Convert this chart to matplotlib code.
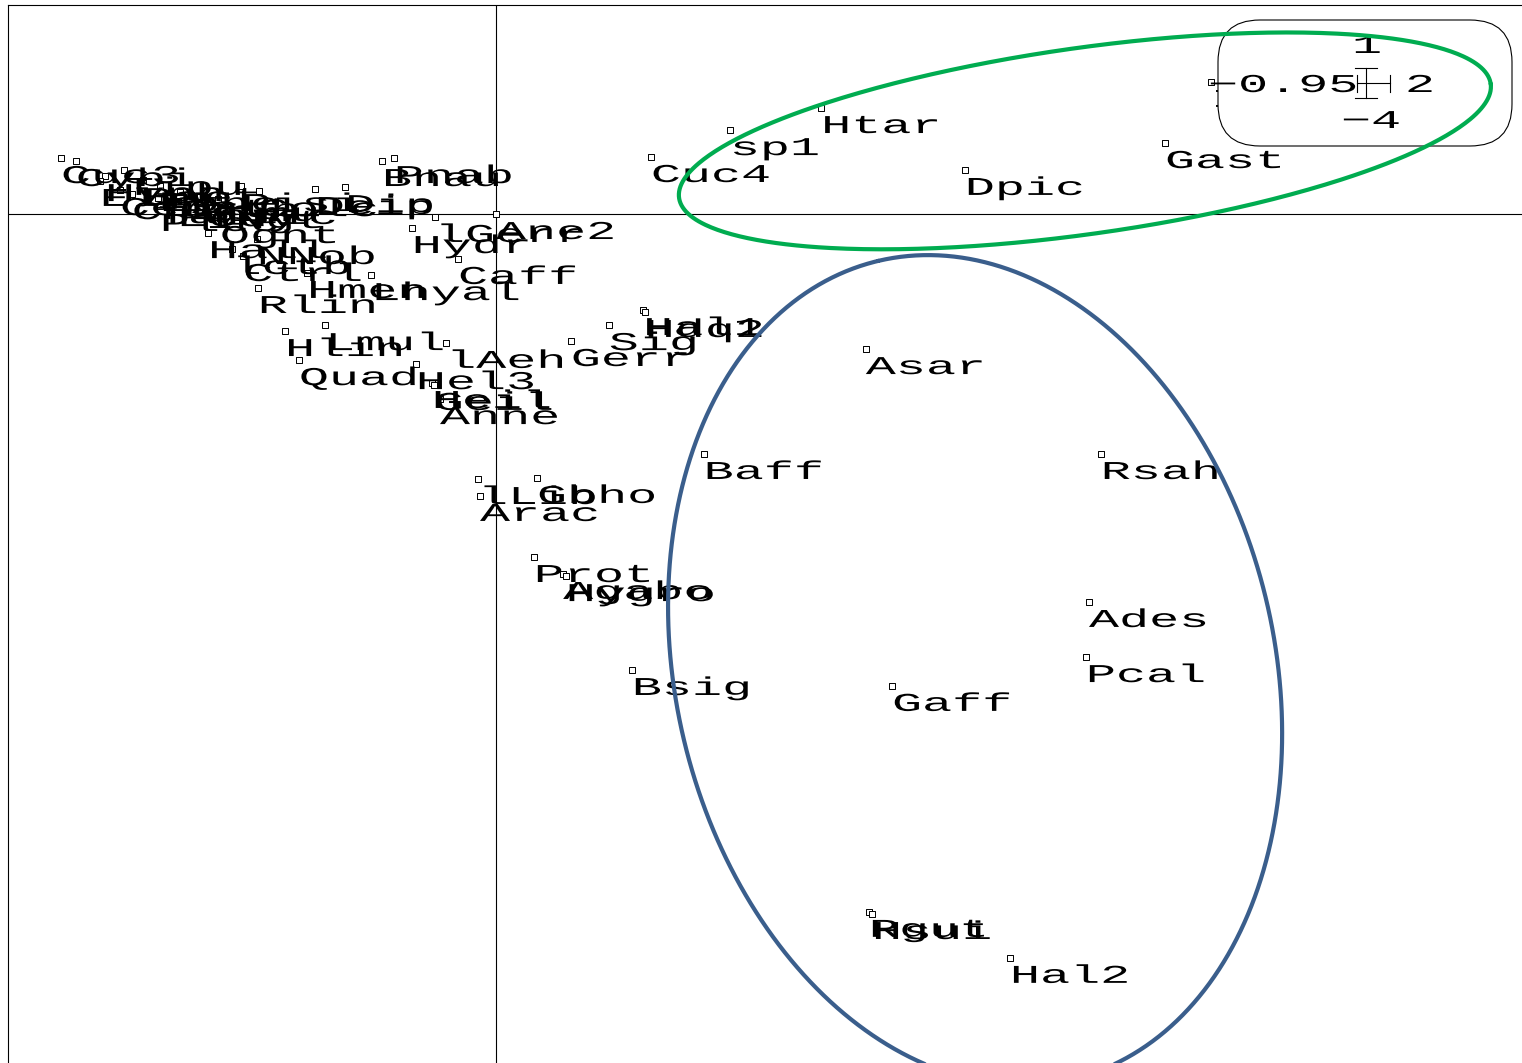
import matplotlib
matplotlib.use("Agg")
import matplotlib.pyplot as plt
import numpy as np
from matplotlib import patheffects as pe
from matplotlib.transforms import Affine2D, IdentityTransform
from matplotlib.patches import FancyBboxPatch
from matplotlib.lines import Line2D

# ---------------- data ----------------
labels = ["Htar", "sp1", "Cuc4", "Dpic", "Gast", "Isot",
          "Asar", "Baff", "Rsah", "Ades", "Pcal", "Gaff", "Bsig",
          "Rgut", "Hsui", "Hal2", "Prot", "Agabo", "Hygro",
          "lLib", "Gbho", "Arac", "Hal1", "Hdq2", "Sig", "Gerr", "lAeh",
          "Hel3", "Heil", "Geil", "Anne", "Quad", "Hlin", "Lmul",
          "Caff", "Hydr", "lGerr", "Ane2", "Lhyal", "Hmen", "Rlin",
          "Pnab", "Bnau",
          "Cuc3", "Cybi", "Tipu", "Hyph", "Elmi", "Baet", "Ephe", "Cera",
          "Chir", "Tani", "Orth", "Simu", "Pisi", "Colc", "Tric", "Plec",
          "Ecdy", "Deip", "Dip",
          "INgt", "Ognt", "Hall", "NNob", "lctb", "Ctrl"]
xs = [0.634, 0.456, 0.302, 0.914, 1.304, 1.394,
      0.721, 0.405, 1.179, 1.156, 1.150, 0.772, 0.265,
      0.727, 0.733, 1.002, 0.074, 0.131, 0.136,
      -0.035, 0.080, -0.031, 0.287, 0.290, 0.220, 0.146, -0.097,
      -0.156, -0.125, -0.121, -0.109, -0.384, -0.411, -0.333,
      -0.074, -0.164, -0.119, 0.000, -0.244, -0.368, -0.464,
      -0.199, -0.222,
      -0.848, -0.819, -0.725, -0.762, -0.772, -0.688, -0.655, -0.733,
      -0.710, -0.659, -0.616, -0.577, -0.497, -0.462, -0.542, -0.655,
      -0.620, -0.353, -0.294,
      -0.567, -0.538, -0.561, -0.466, -0.515, -0.493]
ys = [0.500, 0.396, 0.269, 0.208, 0.335, 0.623,
      -0.637, -1.132, -1.132, -1.830, -2.090, -2.226, -2.151,
      -3.292, -3.302, -3.509, -1.618, -1.698, -1.708,
      -1.250, -1.245, -1.330, -0.453, -0.462, -0.524, -0.599, -0.608,
      -0.708, -0.797, -0.806, -0.873, -0.689, -0.552, -0.524,
      -0.212, -0.066, -0.014, 0.000, -0.288, -0.278, -0.349,
      0.264, 0.250,
      0.264, 0.250, 0.208, 0.179, 0.156, 0.160, 0.132, 0.113,
      0.094, 0.075, 0.104, 0.085, 0.132, 0.108, 0.071, 0.038,
      0.061, 0.118, 0.127,
      0.052, -0.019, -0.090, -0.118, -0.165, -0.198]

# ellipses: centre and two conjugate semi-axis vectors (data units)
green_center = (1.148, 0.345)
green_u = (0.791, 0.269)
green_v = (0.025, -0.435)
blue_center = (0.934, -2.151)
blue_u = (-0.1885, 1.930)
blue_v = (0.568, 0.325)

scale_labels = ["1", "\u22120.95", "2", "\u22124"]

# ---------------- style helpers ----------------
class StretchX(pe.AbstractPathEffect):
    def __init__(self, sx):
        super().__init__((0.0, 0.0))
        self._sx = sx

    def draw_path(self, renderer, gc, tpath, affine, rgbFace=None):
        renderer.draw_path(gc, tpath, Affine2D().scale(self._sx, 1.0) + affine, rgbFace)

FONT = ["Liberation Mono", "DejaVu Sans Mono"]
FS = 18.5
STRETCH = [StretchX(1.95)]

W, H = 1522, 1063
fig = plt.figure(figsize=(W / 100, H / 100), dpi=100)
ax = fig.add_axes([8 / W, 0, 1 - 8 / W, 1 - 5 / H])
ax.set_xlim(-0.951, 2.0)
ax.set_ylim(-4.005, 0.986)
ax.set_xticks([])
ax.set_yticks([])
for s in ["right", "bottom"]:
    ax.spines[s].set_visible(False)
for s in ["top", "left"]:
    ax.spines[s].set_linewidth(0.8)

ax.axhline(0, color="black", lw=0.8, zorder=1)
ax.axvline(0, color="black", lw=0.8, zorder=1)

ax.scatter(xs, ys, marker="s", s=22, facecolor="white", edgecolor="black",
           linewidths=0.7, zorder=3)
for lab, x, y in zip(labels, xs, ys):
    ax.annotate(lab, (x, y), xytext=(0, -25), textcoords="offset pixels",
                ha="left", va="baseline", fontsize=FS, family=FONT,
                path_effects=STRETCH, zorder=3)

# ellipses
t = np.linspace(0, 2 * np.pi, 500)
for c, u, v, col in [(green_center, green_u, green_v, "#00AC50"),
                     (blue_center, blue_u, blue_v, "#3A5E8C")]:
    ex = c[0] + u[0] * np.cos(t) + v[0] * np.sin(t)
    ey = c[1] + u[1] * np.cos(t) + v[1] * np.sin(t)
    ax.plot(ex, ey, color=col, lw=3.0, zorder=6, solid_capstyle="round")

# scale box (top right), drawn inside the axes below the ellipses
idt = IdentityTransform()
box = FancyBboxPatch((1218, H - 146), 294, 126,
                     boxstyle="round,pad=0,rounding_size=42",
                     transform=idt, facecolor="white", edgecolor="black",
                     lw=0.8, zorder=5, clip_on=False)
ax.add_artist(box)

def seg(x0, y0, x1, y1):
    ax.add_artist(Line2D([x0, x1], [H - y0, H - y1], transform=idt,
                         color="black", lw=0.8, zorder=5, clip_on=False))

seg(1357, 83, 1390, 83)
seg(1366, 68, 1366, 98)
seg(1390, 75, 1390, 92)
seg(1357, 75, 1357, 92)
seg(1355, 68, 1377, 68)
seg(1355, 98, 1377, 98)

scale_pos = [(1352, 53), (1208, 92), (1405, 92), (1341, 128)]
for txt, (px, py) in zip(scale_labels, scale_pos):
    ax.text(px, H - py, txt, transform=idt, ha="left", va="baseline",
            fontsize=FS, family=FONT, path_effects=STRETCH, zorder=5,
            clip_on=False)

fig.savefig("out.png", dpi=100)
